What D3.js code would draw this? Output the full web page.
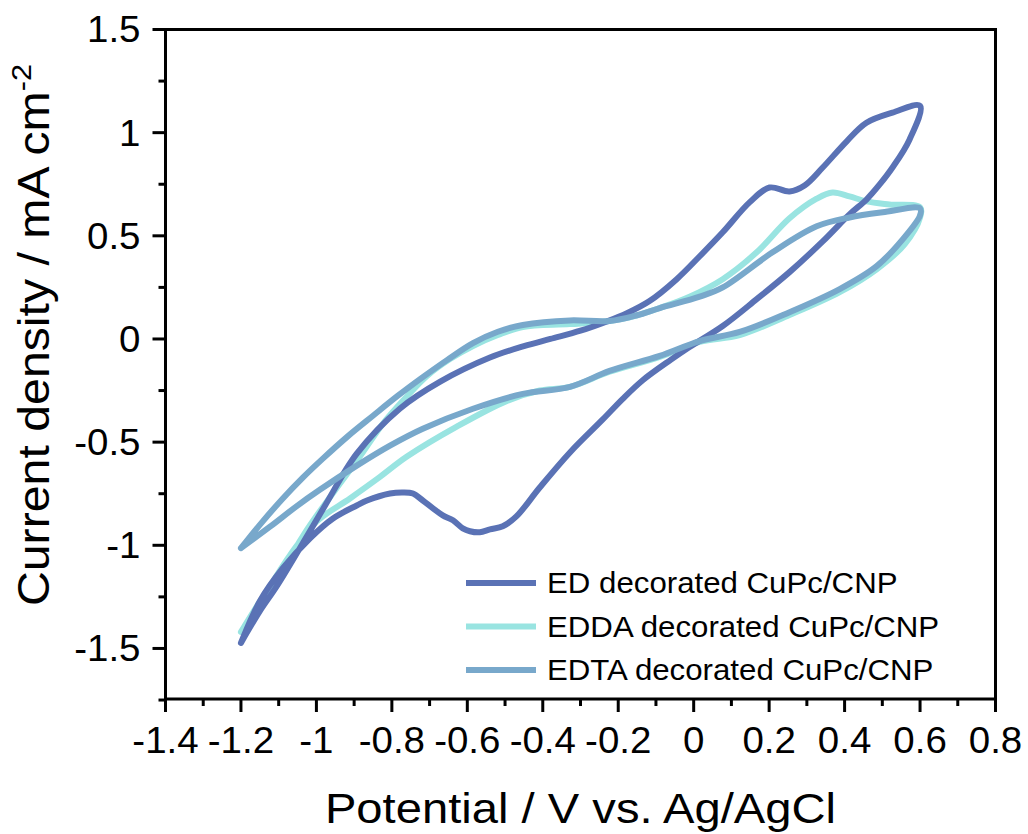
<!DOCTYPE html>
<html>
<head>
<meta charset="utf-8">
<script src="https://cdn.jsdelivr.net/npm/d3@7"></script>
<style>
  body { margin: 0; background: #fff; }
  svg text { font-family: "Liberation Sans", Arial, sans-serif; fill: #000; }
</style>
</head>
<body>
<div id="chart"></div>
<script>
// CV loops: [potential (V), current density (mA cm-2)]
const edLoop = [
  [-1.2, -1.473], [-1.15, -1.319], [-1.105, -1.198], [-1.044, -1.014], [-0.977, -0.807],
  [-0.893, -0.556], [-0.779, -0.338], [-0.673, -0.208], [-0.54, -0.09], [-0.45, -0.035],
  [-0.38, 0.0], [-0.3, 0.04], [-0.23, 0.085], [-0.177, 0.125], [-0.117, 0.184],
  [-0.045, 0.29], [0.016, 0.401], [0.077, 0.517], [0.148, 0.662], [0.201, 0.734],
  [0.254, 0.715], [0.294, 0.744], [0.342, 0.831], [0.405, 0.957], [0.458, 1.048],
  [0.527, 1.097], [0.6, 1.13],
  [0.572, 0.966], [0.527, 0.831], [0.493, 0.749], [0.458, 0.676], [0.413, 0.604],
  [0.342, 0.473], [0.254, 0.324], [0.167, 0.193], [0.077, 0.063], [-0.011, -0.039],
  [-0.06, -0.1], [-0.135, -0.2], [-0.188, -0.29], [-0.241, -0.39], [-0.328, -0.55],
  [-0.408, -0.72], [-0.47, -0.86], [-0.506, -0.908], [-0.54, -0.923], [-0.567, -0.937],
  [-0.593, -0.932], [-0.612, -0.918], [-0.638, -0.879], [-0.665, -0.855], [-0.691, -0.821],
  [-0.718, -0.783], [-0.744, -0.749], [-0.771, -0.744], [-0.805, -0.749], [-0.866, -0.783],
  [-0.893, -0.807], [-0.956, -0.87], [-1.017, -0.966], [-1.089, -1.111], [-1.15, -1.271],
  [-1.2, -1.473]
];

const eddaLoop = [
  [-1.2, -1.42], [-1.144, -1.256], [-1.089, -1.111], [-1.017, -0.903], [-0.951, -0.734],
  [-0.885, -0.57], [-0.824, -0.411], [-0.766, -0.29], [-0.707, -0.179], [-0.646, -0.097],
  [-0.585, -0.034], [-0.519, 0.019], [-0.453, 0.058], [-0.328, 0.072], [-0.223, 0.087],
  [-0.15, 0.115], [-0.09, 0.15], [-0.011, 0.205], [0.077, 0.29], [0.167, 0.42],
  [0.254, 0.585], [0.326, 0.68], [0.368, 0.71], [0.413, 0.691], [0.458, 0.667],
  [0.519, 0.652], [0.6, 0.638],
  [0.6, 0.589], [0.559, 0.459], [0.485, 0.338], [0.387, 0.227], [0.254, 0.116],
  [0.122, 0.019], [0.016, -0.014], [-0.09, -0.087], [-0.223, -0.159], [-0.328, -0.232],
  [-0.408, -0.25], [-0.495, -0.3], [-0.628, -0.425], [-0.76, -0.57], [-0.837, -0.676],
  [-0.911, -0.773], [-0.999, -0.884], [-1.07, -1.048], [-1.131, -1.222], [-1.2, -1.42]
];

const edtaLoop = [
  [-1.2, -1.014], [-1.145, -0.89], [-1.089, -0.773], [-1.036, -0.672], [-0.983, -0.58],
  [-0.917, -0.472], [-0.85, -0.372], [-0.784, -0.275], [-0.718, -0.185], [-0.652, -0.1],
  [-0.585, -0.02], [-0.519, 0.035], [-0.453, 0.068], [-0.328, 0.09], [-0.223, 0.087],
  [-0.15, 0.115], [-0.09, 0.15], [0.016, 0.205], [0.077, 0.25], [0.209, 0.42],
  [0.326, 0.546], [0.413, 0.589], [0.501, 0.614], [0.6, 0.633],
  [0.6, 0.599], [0.554, 0.483], [0.485, 0.353], [0.387, 0.242], [0.254, 0.13],
  [0.122, 0.034], [0.016, -0.01], [-0.09, -0.082], [-0.223, -0.155], [-0.328, -0.232],
  [-0.453, -0.266], [-0.585, -0.338], [-0.718, -0.435], [-0.805, -0.517], [-0.893, -0.614],
  [-0.99, -0.73], [-1.052, -0.81], [-1.123, -0.91], [-1.2, -1.014]
];

const seriesNames = ["ED decorated CuPc/CNP", "EDDA decorated CuPc/CNP", "EDTA decorated CuPc/CNP"];
const seriesColors = ["#5a72b5", "#99e4e1", "#78a8cb"];
const xTicks = [-1.4, -1.2, -1, -0.8, -0.6, -0.4, -0.2, 0, 0.2, 0.4, 0.6, 0.8];
const yTicks = [-1.5, -1, -0.5, 0, 0.5, 1, 1.5];

const width = 1028, height = 834;
const margin = { top: 29.5, right: 32.5, bottom: 135, left: 165.5 };
const plotW = width - margin.left - margin.right;
const plotH = height - margin.top - margin.bottom;
const stretch = 1.097; // the figure's text is drawn a little wide

const x = d3.scaleLinear().domain([-1.4, 0.8]).range([0, plotW]);
const y = d3.scaleLinear().domain([-1.745, 1.5]).range([plotH, 0]);

const svg = d3.select("#chart").append("svg")
    .attr("width", width)
    .attr("height", height);

const g = svg.append("g")
    .attr("transform", `translate(${margin.left},${margin.top})`);

const line = d3.line()
    .x((d) => x(d[0]))
    .y((d) => y(d[1]))
    .curve(d3.curveCatmullRom.alpha(0.5));

// draw order: EDDA under ED under EDTA
const loops = [edLoop, eddaLoop, edtaLoop];
[1, 0, 2].forEach((i) => {
  g.append("path")
      .datum(loops[i])
      .attr("fill", "none")
      .attr("stroke", seriesColors[i])
      .attr("stroke-width", 6)
      .attr("stroke-linecap", "round")
      .attr("stroke-linejoin", "round")
      .attr("d", line);
});

// frame
g.append("rect")
    .attr("width", plotW)
    .attr("height", plotH)
    .attr("fill", "none")
    .attr("stroke", "#000")
    .attr("stroke-width", 3);

const fmt = (d) => d3.format("")(d).replace("−", "-");

// bottom axis
const xMinor = d3.range(-1.3, 0.8, 0.2);
g.selectAll(".xminor")
    .data(xMinor)
  .enter().append("line")
    .attr("x1", (d) => x(d)).attr("x2", (d) => x(d))
    .attr("y1", plotH).attr("y2", plotH + 7)
    .attr("stroke", "#000").attr("stroke-width", 3);

g.selectAll(".xmajor")
    .data(xTicks)
  .enter().append("line")
    .attr("x1", (d) => x(d)).attr("x2", (d) => x(d))
    .attr("y1", plotH).attr("y2", plotH + 13)
    .attr("stroke", "#000").attr("stroke-width", 3);

g.selectAll(".xlabel")
    .data(xTicks)
  .enter().append("text")
    .attr("transform", (d) => `translate(${x(d)},${plotH + 54}) scale(1.04,1)`)
    .attr("text-anchor", "middle")
    .attr("font-size", 37)
    .text(fmt);

// left axis
const yMinor = d3.range(-1.75, 1.5, 0.5);
g.selectAll(".yminor")
    .data(yMinor)
  .enter().append("line")
    .attr("x1", -7).attr("x2", 0)
    .attr("y1", (d) => y(d)).attr("y2", (d) => y(d))
    .attr("stroke", "#000").attr("stroke-width", 3);

g.selectAll(".ymajor")
    .data(yTicks)
  .enter().append("line")
    .attr("x1", -13).attr("x2", 0)
    .attr("y1", (d) => y(d)).attr("y2", (d) => y(d))
    .attr("stroke", "#000").attr("stroke-width", 3);

g.selectAll(".ylabel")
    .data(yTicks)
  .enter().append("text")
    .attr("transform", (d) => `translate(-25,${y(d)}) scale(1.04,1)`)
    .attr("dy", "0.35em")
    .attr("text-anchor", "end")
    .attr("font-size", 37)
    .text(fmt);

// axis titles
svg.append("text")
    .attr("transform", `translate(${margin.left + plotW / 2},823) scale(${stretch},1)`)
    .attr("text-anchor", "middle")
    .attr("font-size", 43)
    .text("Potential / V vs. Ag/AgCl");

const yTitle = svg.append("text")
    .attr("transform", `translate(49,335) rotate(-90) scale(${stretch},1)`)
    .attr("text-anchor", "middle")
    .attr("font-size", 44);
yTitle.append("tspan").text("Current density / mA cm");
yTitle.append("tspan")
    .attr("font-size", 28)
    .attr("dy", -18)
    .text("-2");

// legend
const legend = svg.append("g");
seriesNames.forEach((name, i) => {
  const ly = 583 + i * 43.5;
  legend.append("line")
      .attr("x1", 466).attr("x2", 536)
      .attr("y1", ly).attr("y2", ly)
      .attr("stroke", seriesColors[i])
      .attr("stroke-width", 6);
  legend.append("text")
      .attr("transform", `translate(547,${ly}) scale(1.077,1)`)
      .attr("dy", "0.35em")
      .attr("font-size", 29)
      .text(name);
});
</script>
</body>
</html>
